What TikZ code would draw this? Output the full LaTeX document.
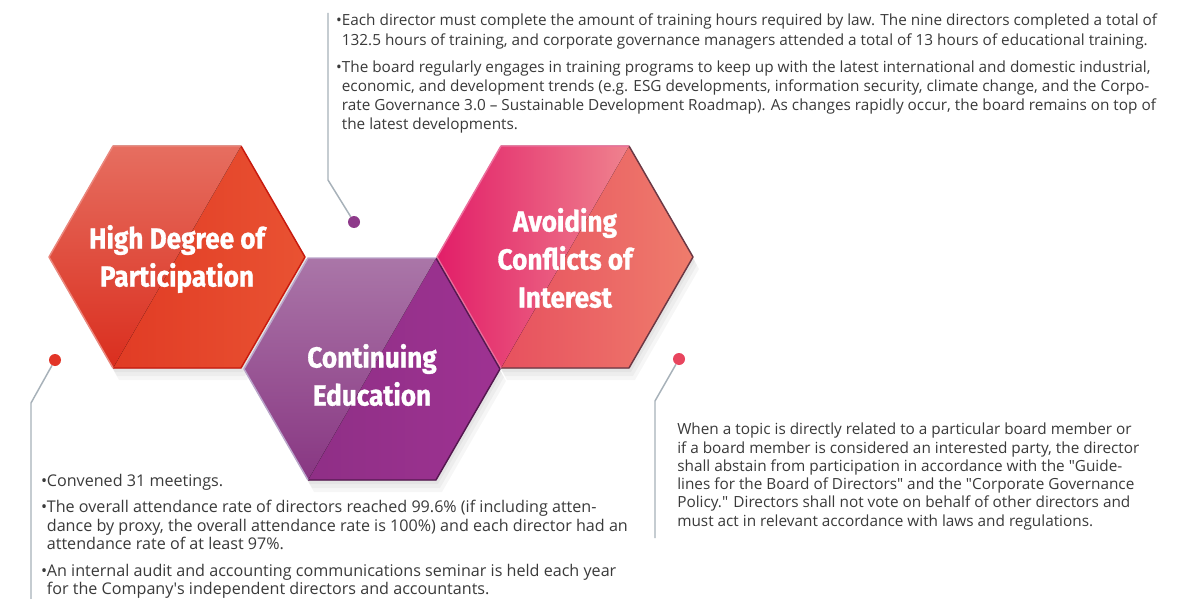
\documentclass[tikz,border=0pt]{standalone}
\usepackage{fontspec}
\setmainfont{Open Sans}
\newfontfamily\hexfont[FakeStretch=0.9, FakeBold=1]{Fira Sans}
\usepackage{tikz}
\usetikzlibrary{positioning}

\definecolor{textgray}{HTML}{3A3A3A}
\definecolor{linegray}{HTML}{A7B1B9}
\definecolor{dotred}{HTML}{E23528}
\definecolor{dotpurple}{HTML}{8E3A8A}
\definecolor{dotpink}{HTML}{E8455E}
% hexagon colours
\definecolor{redA}{HTML}{DE3420}
\definecolor{redB}{HTML}{E95232}
\definecolor{redC}{HTML}{E66E60}
\definecolor{redD}{HTML}{DA2E1E}
\definecolor{redDark}{HTML}{C81A0E}
\definecolor{redLight}{HTML}{EB877D}
\definecolor{purpleA}{HTML}{8A2E82}
\definecolor{purpleB}{HTML}{9E3292}
\definecolor{purpleC}{HTML}{AA76A8}
\definecolor{purpleD}{HTML}{883682}
\definecolor{purpleDark}{HTML}{551850}
\definecolor{purpleLight}{HTML}{BAA5CA}
\definecolor{pinkA}{HTML}{E4425A}
\definecolor{pinkB}{HTML}{EF7C6C}
\definecolor{pinkC}{HTML}{E21E68}
\definecolor{pinkD}{HTML}{EF828E}
\definecolor{pinkDark}{HTML}{6C3844}
\definecolor{pinkLight}{HTML}{EC6E9C}

\newcommand{\bulletmark}{\makebox[4.2pt][c]{\textbullet}}
\newcommand{\indentline}{\hspace*{4.2pt}}

% one glossy hexagon, centre #1,#2, colour set #3
\newcommand{\drawhex}[3]{%
  \begin{scope}[shift={(#1,#2)}]
    % soft shadow
    \foreach \s in {4,8,12}
      \fill[black, opacity=0.035] (-64+\s/2,-111+\s) -- (64+\s/2,-111+\s) -- (128+\s/2,\s)
        -- (64+\s/2,111+\s) -- (-64+\s/2,111+\s) -- (-128+\s/2,\s) -- cycle;
    % body and gloss half
    \fill[#3 right] (-64,-111) -- (64,-111) -- (128,0) -- (64,111) -- (-64,111) -- (-128,0) -- cycle;
    \fill[#3 left] (64,-111) -- (-64,-111) -- (-128,0) -- (-64,111) -- cycle;
    % edges
    \draw[draw=#3Dark, line width=1.1pt, line join=round] (64,-111) -- (128,0) -- (64,111) -- (-64,111);
    \draw[draw=#3Light, line width=1.1pt, line join=round] (-64,111) -- (-128,0) -- (-64,-111) -- (64,-111);
  \end{scope}}

\tikzset{
  red right/.style={left color=redA, right color=redB},
  red left/.style={top color=redC, bottom color=redD},
  purple right/.style={left color=purpleA, right color=purpleB},
  purple left/.style={top color=purpleC, bottom color=purpleD},
  pink right/.style={left color=pinkA, right color=pinkB},
  pink left/.style={left color=pinkC, right color=pinkD},
  hextitle/.style={text=white, font=\hexfont\bfseries\fontsize{21.8}{28.5}\selectfont,
    align=center, inner sep=0pt},
  bodytext/.style={text=textgray, font=\fontsize{11.5}{14.3}\selectfont,
    align=left, inner sep=0pt, anchor=north west},
  bead/.style={circle, inner sep=0pt, minimum size=9pt},
  leader/.style={draw=linegray, line width=1.1pt},
}

\begin{document}
\begin{tikzpicture}[x=0.75pt, y=-0.75pt]
    \useasboundingbox (0,0) rectangle (1199,599);
    \fill[white] (0,0) rectangle (1199,599);
    % HEXAGONS
    \drawhex{177}{257}{red}
    \drawhex{565}{257}{pink}
    \drawhex{372}{369}{purple}
    % titles
    \node[hextitle] (hexRed) at (177,259) {High Degree of\\Participation};
    \node[hextitle] (hexPink) at (565,258) {Avoiding\\Conflicts of\\Interest};
    \node[hextitle] (hexPurple) at (372,375) {Continuing\\Education};
    % PINS
    \node[bead, fill=dotred] (dotRed) at (55,360) {};
    \node[bead, fill=dotpurple] (dotPurple) at (354,222) {};
    \node[bead, fill=dotpink] (dotPink) at (679,359) {};
    % leader lines
    \coordinate (bendRed) at (31,403);
    \coordinate (endRed) at (31,599);
    \coordinate (bendPurple) at (328,180);
    \coordinate (endPurple) at (328,13);
    \coordinate (bendPink) at (655,401);
    \coordinate (endPink) at (655,538);
    \draw[leader] (dotRed) -- (bendRed) -- (endRed);
    \draw[leader] (dotPurple) -- (bendPurple) -- (endPurple);
    \draw[leader] (dotPink) -- (bendPink) -- (endPink);
    % TEXTS
    \node[bodytext] (textPurple) at (336,14) {%
      \bulletmark Each director must complete the amount of training hours required by law. The nine directors completed a total of\\
      \indentline 132.5 hours of training, and corporate governance managers attended a total of 13 hours of educational training.\\[6pt]
      \bulletmark The board regularly engages in training programs to keep up with the latest international and domestic industrial,\\
      \indentline economic, and development trends (e.g. ESG developments, information security, climate change, and the Corpo-\\
      \indentline rate Governance 3.0 -- Sustainable Development Roadmap). As changes rapidly occur, the board remains on top of\\
      \indentline the latest developments.};
    \node[bodytext, font=\fontsize{12.1}{13.9}\selectfont] (textRed) at (41,474) {%
      \bulletmark Convened 31 meetings.\\[5.8pt]
      \bulletmark The overall attendance rate of directors reached 99.6\% (if including atten-\\
      \indentline dance by proxy, the overall attendance rate is 100\%) and each director had an\\
      \indentline attendance rate of at least 97\%.\\[5.8pt]
      \bulletmark An internal audit and accounting communications seminar is held each year\\
      \indentline for the Company\textquotesingle s independent directors and accountants.};
    \node[bodytext, font=\fontsize{11.5}{13.7}\selectfont] (textPink) at (677,423) {%
      When a topic is directly related to a particular board member or\\
      if a board member is considered an interested party, the director\\
      shall abstain from participation in accordance with the \textquotedbl Guide-\\
      lines for the Board of Directors\textquotedbl{} and the \textquotedbl Corporate Governance\\
      Policy.\textquotedbl{} Directors shall not vote on behalf of other directors and\\
      must act in relevant accordance with laws and regulations.};
\end{tikzpicture}
\end{document}
